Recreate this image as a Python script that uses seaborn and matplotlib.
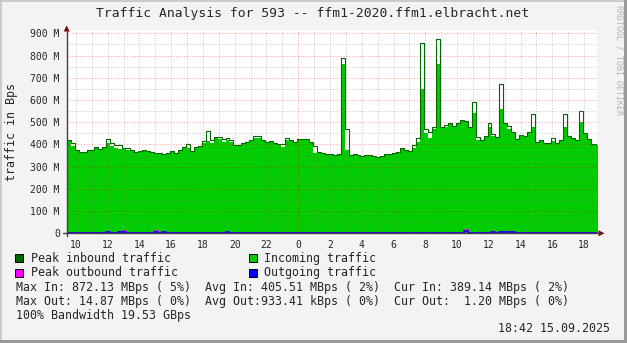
import numpy as np
import matplotlib
matplotlib.use("Agg")
import matplotlib.pyplot as plt
import seaborn as sns
from matplotlib.lines import Line2D
from matplotlib.patches import Rectangle, Polygon

# ---------------- data (MBps, 15-minute bins starting 09:25) ----------------
start_hour = 9.42
bin_hours = 0.25

incoming = [
    417, 395, 370, 360, 363, 370, 372, 385, 378, 385,
    405, 395, 385, 380, 378, 373, 372, 363, 368, 373,
    366, 364, 360, 358, 355, 357, 366, 358, 372, 386,
    385, 368, 385, 390, 405, 415, 405, 430, 425, 412,
    420, 410, 393, 395, 402, 410, 418, 430, 428, 415,
    408, 412, 405, 397, 390, 420, 418, 408, 420, 422,
    420, 408, 362, 363, 360, 355, 352, 348, 355, 760,
    375, 350, 352, 350, 346, 348, 350, 345, 341, 347,
    352, 352, 358, 365, 380, 370, 366, 385, 410, 650,
    450, 430, 470, 760, 475, 478, 490, 482, 492, 505,
    500, 475, 540, 420, 415, 435, 480, 440, 432, 560,
    490, 470, 455, 423, 438, 435, 450, 480, 410, 415,
    402, 402, 415, 405, 415, 480, 435, 427, 418, 500,
    450, 420, 398, 398]

peak_in = [
    422, 405, 374, 364, 366, 373, 375, 388, 381, 388,
    423, 405, 396, 396, 385, 382, 375, 366, 371, 376,
    369, 367, 363, 361, 358, 360, 369, 361, 375, 390,
    403, 371, 388, 393, 417, 462, 420, 433, 432, 425,
    428, 422, 396, 398, 405, 413, 421, 438, 438, 418,
    412, 417, 408, 400, 400, 428, 421, 411, 423, 425,
    423, 411, 395, 366, 363, 358, 355, 351, 358, 787,
    470, 353, 355, 353, 349, 351, 353, 348, 344, 350,
    355, 355, 361, 368, 383, 373, 369, 397, 430, 858,
    470, 455, 477, 873, 480, 487, 498, 485, 498, 510,
    505, 480, 590, 435, 418, 438, 495, 447, 435, 672,
    495, 483, 458, 426, 441, 438, 457, 537, 413, 418,
    405, 405, 427, 408, 418, 537, 438, 430, 421, 550,
    453, 423, 401, 401]

outgoing = [
    0.6, 0.6, 0.6, 0.6, 0.6, 0.6, 0.6, 0.6, 0.6, 0.6,
    7.0, 0.6, 0.6, 7.0, 7.0, 0.6, 0.6, 0.6, 0.6, 0.6,
    0.6, 0.6, 8.0, 0.6, 6.0, 0.6, 0.6, 0.6, 0.6, 0.6,
    0.6, 0.6, 0.6, 0.6, 0.6, 0.6, 0.6, 0.6, 0.6, 0.6,
    6.0, 0.6, 0.6, 0.6, 0.6, 0.6, 0.6, 0.6, 0.6, 0.6,
    0.6, 0.6, 0.6, 0.6, 0.6, 0.6, 0.6, 0.6, 0.6, 0.6,
    0.6, 0.6, 0.6, 0.6, 0.6, 0.6, 0.6, 0.6, 0.6, 0.6,
    0.6, 0.6, 0.6, 0.6, 0.6, 0.6, 0.6, 0.6, 0.6, 0.6,
    0.6, 0.6, 0.6, 0.6, 0.6, 0.6, 0.6, 0.6, 0.6, 0.6,
    0.6, 0.6, 0.6, 0.6, 0.6, 0.6, 0.6, 0.6, 0.6, 0.6,
    9.0, 0.6, 0.6, 0.6, 0.6, 0.6, 0.6, 5.0, 0.6, 5.0,
    5.0, 5.0, 5.0, 0.6, 0.6, 0.6, 0.6, 0.6, 0.6, 0.6,
    0.6, 0.6, 0.6, 0.6, 0.6, 0.6, 0.6, 0.6, 0.6, 0.6,
    0.6, 0.6, 0.6, 0.6]

peak_out = [
    1.2, 1.2, 1.2, 1.2, 1.2, 1.2, 1.2, 1.2, 1.2, 1.2,
    7.0, 1.2, 1.2, 7.0, 9.0, 1.2, 1.2, 1.2, 1.2, 1.2,
    1.2, 1.2, 11.0, 1.2, 6.0, 1.2, 1.2, 1.2, 1.2, 1.2,
    1.2, 1.2, 1.2, 1.2, 1.2, 1.2, 1.2, 1.2, 1.2, 1.2,
    6.0, 1.2, 1.2, 1.2, 1.2, 1.2, 1.2, 1.2, 1.2, 1.2,
    1.2, 1.2, 1.2, 1.2, 1.2, 1.2, 1.2, 1.2, 1.2, 1.2,
    1.2, 1.2, 1.2, 1.2, 1.2, 1.2, 1.2, 1.2, 1.2, 1.2,
    1.2, 1.2, 1.2, 1.2, 1.2, 1.2, 1.2, 1.2, 1.2, 1.2,
    1.2, 1.2, 1.2, 1.2, 1.2, 1.2, 1.2, 1.2, 1.2, 1.2,
    1.2, 1.2, 1.2, 1.2, 1.2, 1.2, 1.2, 1.2, 1.2, 1.2,
    14.87, 1.2, 1.2, 1.2, 1.2, 1.2, 1.2, 5.0, 1.2, 6.0,
    5.0, 5.0, 5.0, 1.2, 1.2, 1.2, 1.2, 1.2, 1.2, 1.2,
    1.2, 1.2, 1.2, 1.2, 1.2, 1.2, 1.2, 1.2, 1.2, 1.2,
    1.2, 1.2, 1.2, 1.2]

y_ticks = [0, 100, 200, 300, 400, 500, 600, 700, 800, 900]
y_tick_labels = ["0", "100 M", "200 M", "300 M", "400 M", "500 M",
                 "600 M", "700 M", "800 M", "900 M"]
x_ticks = [10, 12, 14, 16, 18, 20, 22, 24, 26, 28, 30, 32, 34, 36, 38, 40, 42]
x_tick_labels = ["10", "12", "14", "16", "18", "20", "22", "0", "2", "4",
                 "6", "8", "10", "12", "14", "16", "18"]

title = "Traffic Analysis for 593 -- ffm1-2020.ffm1.elbracht.net"
stats_in = "Max In: 872.13 MBps ( 5%)  Avg In: 405.51 MBps ( 2%)  Cur In: 389.14 MBps ( 2%)"
stats_out = "Max Out: 14.87 MBps ( 0%)  Avg Out:933.41 kBps ( 0%)  Cur Out:  1.20 MBps ( 0%)"
bandwidth = "100% Bandwidth 19.53 GBps"
stamp = "18:42 15.09.2025"

# ---------------- figure ----------------
sns.set_style("white")
plt.rcParams["font.family"] = ["DejaVu Sans Mono", "DejaVu Sans"]

W, H = 627, 343
fig = plt.figure(figsize=(W / 100, H / 100), dpi=100, facecolor="#f3f3f3")


def fx(x):
    return x / W


def fy(y):
    return 1 - y / H


# 3D frame
fig.add_artist(Rectangle((0, fy(2)), 1, 2 / H, transform=fig.transFigure, color="#cbcbcb", lw=0))
fig.add_artist(Rectangle((0, 0), 2 / W, 1, transform=fig.transFigure, color="#cbcbcb", lw=0))
fig.add_artist(Rectangle((0, 0), 1, 3 / H, transform=fig.transFigure, color="#999999", lw=0))
fig.add_artist(Rectangle((fx(624), 0), 3 / W, 1, transform=fig.transFigure, color="#999999", lw=0))

left_px, right_px, top_px, bot_px = 66.7, 597.0, 29.7, 233.3
px_per_hour = 15.88
ax = fig.add_axes([fx(left_px), fy(bot_px), (right_px - left_px) / W, (bot_px - top_px) / H])
ax.set_facecolor("white")

n = len(incoming)
t = start_hour + bin_hours * np.arange(n + 1)


def ext(v):
    return np.append(np.asarray(v, float), v[-1])


ax.fill_between(t, 0, ext(incoming), step="post", color="#00cc00", lw=0, zorder=1)
sns.lineplot(x=t, y=ext(peak_in), drawstyle="steps-post", color="#006600", lw=0.8,
             estimator=None, sort=False, ax=ax, zorder=3)
sns.lineplot(x=t, y=ext(peak_out), drawstyle="steps-post", color="#ff00ff", lw=1.2,
             estimator=None, sort=False, ax=ax, zorder=4)
sns.lineplot(x=t, y=ext(outgoing), drawstyle="steps-post", color="#0000ff", lw=1.2,
             estimator=None, sort=False, ax=ax, zorder=5)

ax.set_xlim(start_hour, start_hour + (right_px - left_px) / px_per_hour)
ax.set_ylim(0, (bot_px - top_px) * 900 / 200)

# grid over the data
dots = (0, (1, 1.6))
for v in range(50, 901, 50):
    if v % 100 == 0:
        ax.axhline(v, color="#ff0000", alpha=0.35, lw=0.75, ls=dots, zorder=6)
    else:
        ax.axhline(v, color="#808080", alpha=0.4, lw=0.75, ls=dots, zorder=6)
for h in range(10, 43):
    if h == 24:
        ax.axvline(h, color="#ff0000", alpha=0.35, lw=0.75, ls=dots, zorder=6)
    else:
        ax.axvline(h, color="#808080", alpha=0.4, lw=0.75, ls=dots, zorder=6)

for s in ax.spines.values():
    s.set_visible(False)
ax.set_yticks(y_ticks)
ax.set_yticklabels(y_tick_labels)
ax.set_xticks(x_ticks)
ax.set_xticklabels(x_tick_labels)
ax.tick_params(axis="both", labelsize=7, length=3, width=0.8, color="#404040", pad=2)
ax.set_xlabel("")
ax.set_ylabel("")

# axes lines and arrows
fig.add_artist(Line2D([fx(left_px), fx(left_px)], [fy(236), fy(29)], transform=fig.transFigure,
                      color="#404040", lw=1))
fig.add_artist(Line2D([fx(63), fx(600)], [fy(bot_px), fy(bot_px)], transform=fig.transFigure,
                      color="#404040", lw=1))
fig.add_artist(Polygon([[fx(63.7), fy(31.5)], [fx(69.7), fy(31.5)], [fx(66.7), fy(25.5)]],
                       closed=True, transform=fig.transFigure, color="#800000", lw=0))
fig.add_artist(Polygon([[fx(598.5), fy(230.3)], [fx(598.5), fy(236.3)], [fx(604.5), fy(233.3)]],
                       closed=True, transform=fig.transFigure, color="#800000", lw=0))

# texts
fig.text(fx(313), fy(13.3), title, ha="center", va="center", fontsize=9.4)
fig.text(fx(11.7), fy(131.7), "traffic in Bps", rotation=90, ha="center", va="center", fontsize=8.4)
fig.text(fx(618.5), fy(60), "RRDTOOL / TOBI OETIKER", rotation=270, ha="center", va="center",
         fontsize=6, color="#b4b4b4")

legend_items = [
    (15.5, 258.3, "#006600", "Peak inbound traffic"),
    (248.5, 258.3, "#00cc00", "Incoming traffic"),
    (15.5, 272.7, "#ff00ff", "Peak outbound traffic"),
    (248.5, 272.7, "#0000ff", "Outgoing traffic"),
]
for x0, yc, col, lab in legend_items:
    fig.add_artist(Rectangle((fx(x0), fy(yc + 4)), 8 / W, 8 / H, transform=fig.transFigure,
                             facecolor=col, edgecolor="black", lw=0.7))
    fig.text(fx(x0 + 15.2), fy(yc), lab, ha="left", va="center", fontsize=8.4)

fig.text(fx(16), fy(287), stats_in, ha="left", va="center", fontsize=8.4)
fig.text(fx(16), fy(301), stats_out, ha="left", va="center", fontsize=8.4)
fig.text(fx(16), fy(315), bandwidth, ha="left", va="center", fontsize=8.4)
fig.text(fx(610), fy(329), stamp, ha="right", va="center", fontsize=8.4)

fig.savefig("out.png", dpi=100, facecolor=fig.get_facecolor())
